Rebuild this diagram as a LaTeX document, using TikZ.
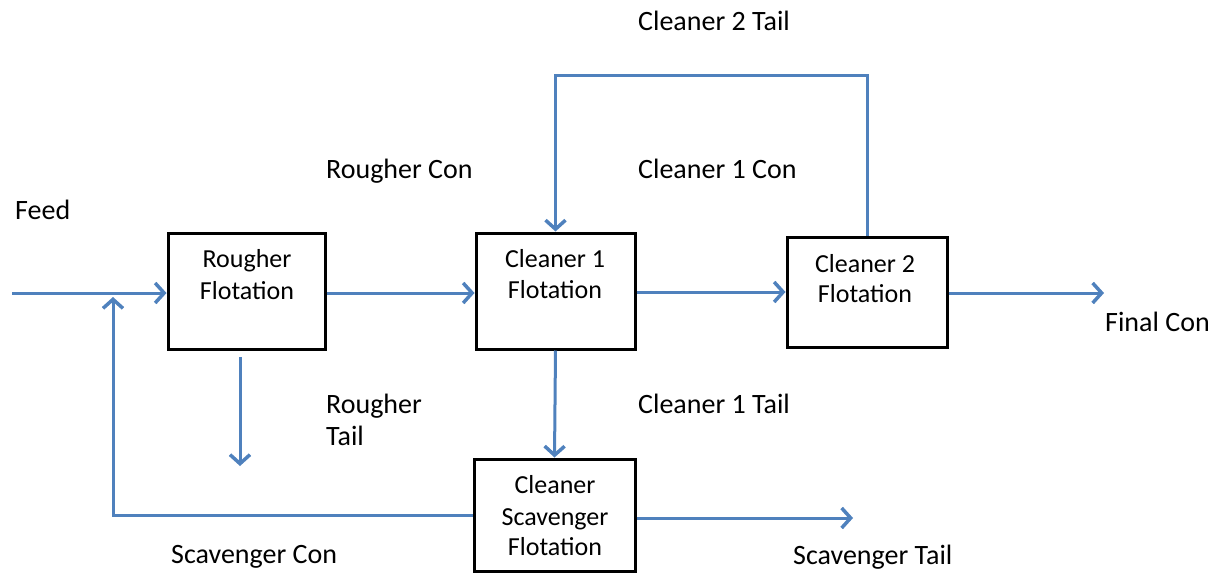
\documentclass[tikz,border=0pt]{standalone}
\usepackage{fontspec}
\setmainfont{Carlito}
\usetikzlibrary{arrows.meta}
\definecolor{flowblue}{HTML}{4F81BD}
\begin{document}
\begin{tikzpicture}[x=1pt,y=-1pt,
  box/.style={draw=black,line width=3pt,minimum width=#1,inner sep=0pt},
  flow/.style={draw=flowblue,line width=3pt,-{Straight Barb[length=9pt,width=20pt,line width=3.5pt]}},
  lbl/.style={font=\fontsize{28}{33}\selectfont,anchor=base west,inner sep=0pt},
  btxt/.style={font=\fontsize{26}{31}\selectfont,anchor=base,inner sep=0pt}]
\useasboundingbox (0,0) rectangle (1218,573);
% boxes
\node[box=157pt,minimum height=116pt] (rf) at (246.5,291) {};
\node[box=159pt,minimum height=116pt] (c1) at (555.5,291) {};
\node[box=160pt,minimum height=110pt] (c2) at (867,292) {};
\node[box=161pt,minimum height=112pt] (sc) at (554.5,515) {};
% box texts
\node[btxt] (rf1) at (247,267) {Rougher};
\node[btxt] (rf2) at (247,299) {Flotation};
\node[btxt] (c11) at (555,267) {Cleaner 1};
\node[btxt] (c12) at (555,298) {Flotation};
\node[btxt] (c21) at (865,272) {Cleaner 2};
\node[btxt] (c22) at (865,302) {Flotation};
\node[btxt] (sc1) at (555,493) {Cleaner};
\node[btxt] (sc2) at (555,525) {Scavenger};
\node[btxt] (sc3) at (555,555) {Flotation};
% labels
\node[lbl] (l1) at (638,30) {Cleaner 2 Tail};
\node[lbl] (l2) at (326,178) {Rougher Con};
\node[lbl] (l3) at (638,178) {Cleaner 1 Con};
\node[lbl] (l4) at (15,219) {Feed};
\node[lbl] (l5) at (1105,331) {Final Con};
\node[lbl] (l6) at (326,413) {Rougher};
\node[lbl] (l7) at (326,445) {Tail};
\node[lbl] (l8) at (638,413) {Cleaner 1 Tail};
\node[lbl] (l9) at (171,563) {Scavenger Con};
\node[lbl] (l10) at (793,564) {Scavenger Tail};
% coordinates
\coordinate (feedstart) at (12,293);
\coordinate (fj) at (113,297);
\coordinate (rt1) at (240,357);
\coordinate (rt2) at (240,466);
\coordinate (topy) at (0,75);
\coordinate (fc) at (1104,293);
\coordinate (st) at (853,518);
% connectors
\draw[flow] (feedstart) -- (feedstart -| rf.west);
\draw[flow] (sc.west) -| (fj);
\draw[flow] (rt1) -- (rt2);
\draw[flow] (rf.east |- feedstart) -- (c1.west |- feedstart);
\draw[flow] (c1.east |- 0,292) -- (c2.west |- 0,292);
\draw[flow] (c2.east |- fc) -- (fc);
\draw[flow] (c1.south) -- (sc.north);
\draw[flow] (c2.north) -- (c2.north |- topy) -- (c1.north |- topy) -- (c1.north);
\draw[flow] (sc.east |- st) -- (st);
\end{tikzpicture}
\end{document}
